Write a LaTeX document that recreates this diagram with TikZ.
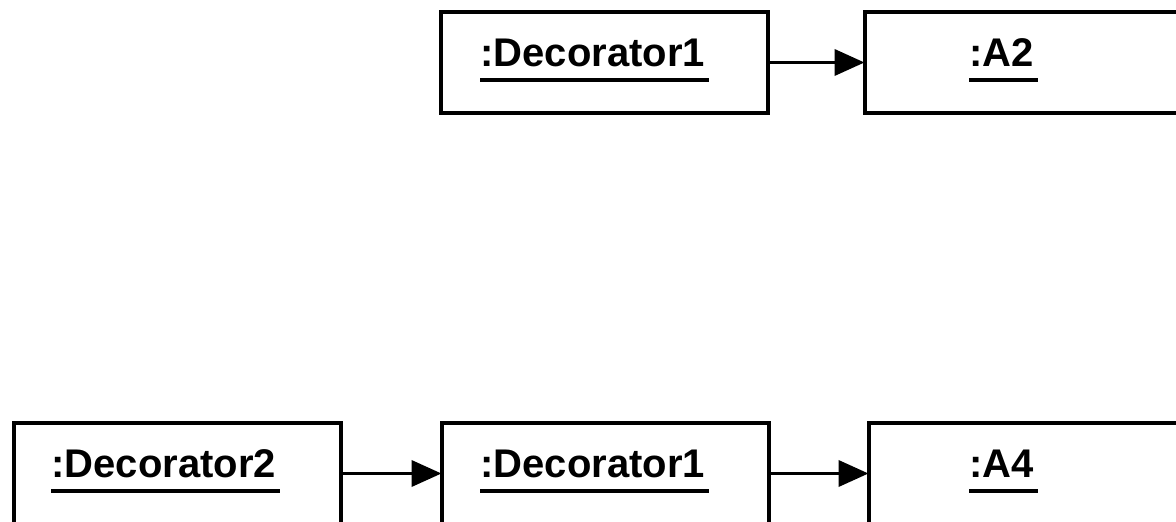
\documentclass[tikz,border=0pt]{standalone}
\usepackage{fontspec}
\setmainfont{Liberation Sans}
\usepackage{tikz}
\usetikzlibrary{arrows.meta,shapes}
\newcommand{\objname}[1]{\setbox0=\hbox{#1}\rlap{\rule[-7.5pt]{\dimexpr\wd0+2pt\relax}{2pt}}\box0}
\begin{document}
\begin{tikzpicture}[x=0.5pt,y=-0.5pt]
			\tikzset{objbox/.style={draw,line width=2pt,rectangle,minimum width=163.5pt,minimum height=50.5pt,inner sep=0pt,outer sep=0pt}}
			\tikzset{objtext/.style={anchor=base west,inner sep=0pt,font=\fontsize{20pt}{24pt}\selectfont\bfseries}}
			\tikzset{link/.style={line width=1.9pt,-{Triangle[length=15pt,width=13pt]}}}
			\useasboundingbox (0,0) rectangle (1176,522);
			\clip (0,0) rectangle (1176,522);
			\node[objbox] (dec1) at (604.5,62.5) {};
			\node[objbox] (a2) at (1028,62.5) {};
			\node[objbox] (dec2) at (177,473.5) {};
			\node[objbox] (dec1b) at (605,473.5) {};
			\node[objbox] (a4) at (1032,473.5) {};
			\node[objtext] (dec1name) at (480,67) {\objname{:Decorator1}};
			\node[objtext] (a2name) at (969,67) {\objname{:A2}};
			\node[objtext] (dec2name) at (51,478) {\objname{:Decorator2}};
			\node[objtext] (dec1bname) at (480,478) {\objname{:Decorator1}};
			\node[objtext] (a4name) at (969,478) {\objname{:A4}};
			\draw[link] (dec1) -- (a2);
			\draw[link] (dec2) -- (dec1b);
			\draw[link] (dec1b) -- (a4);
		\end{tikzpicture}
\end{document}
